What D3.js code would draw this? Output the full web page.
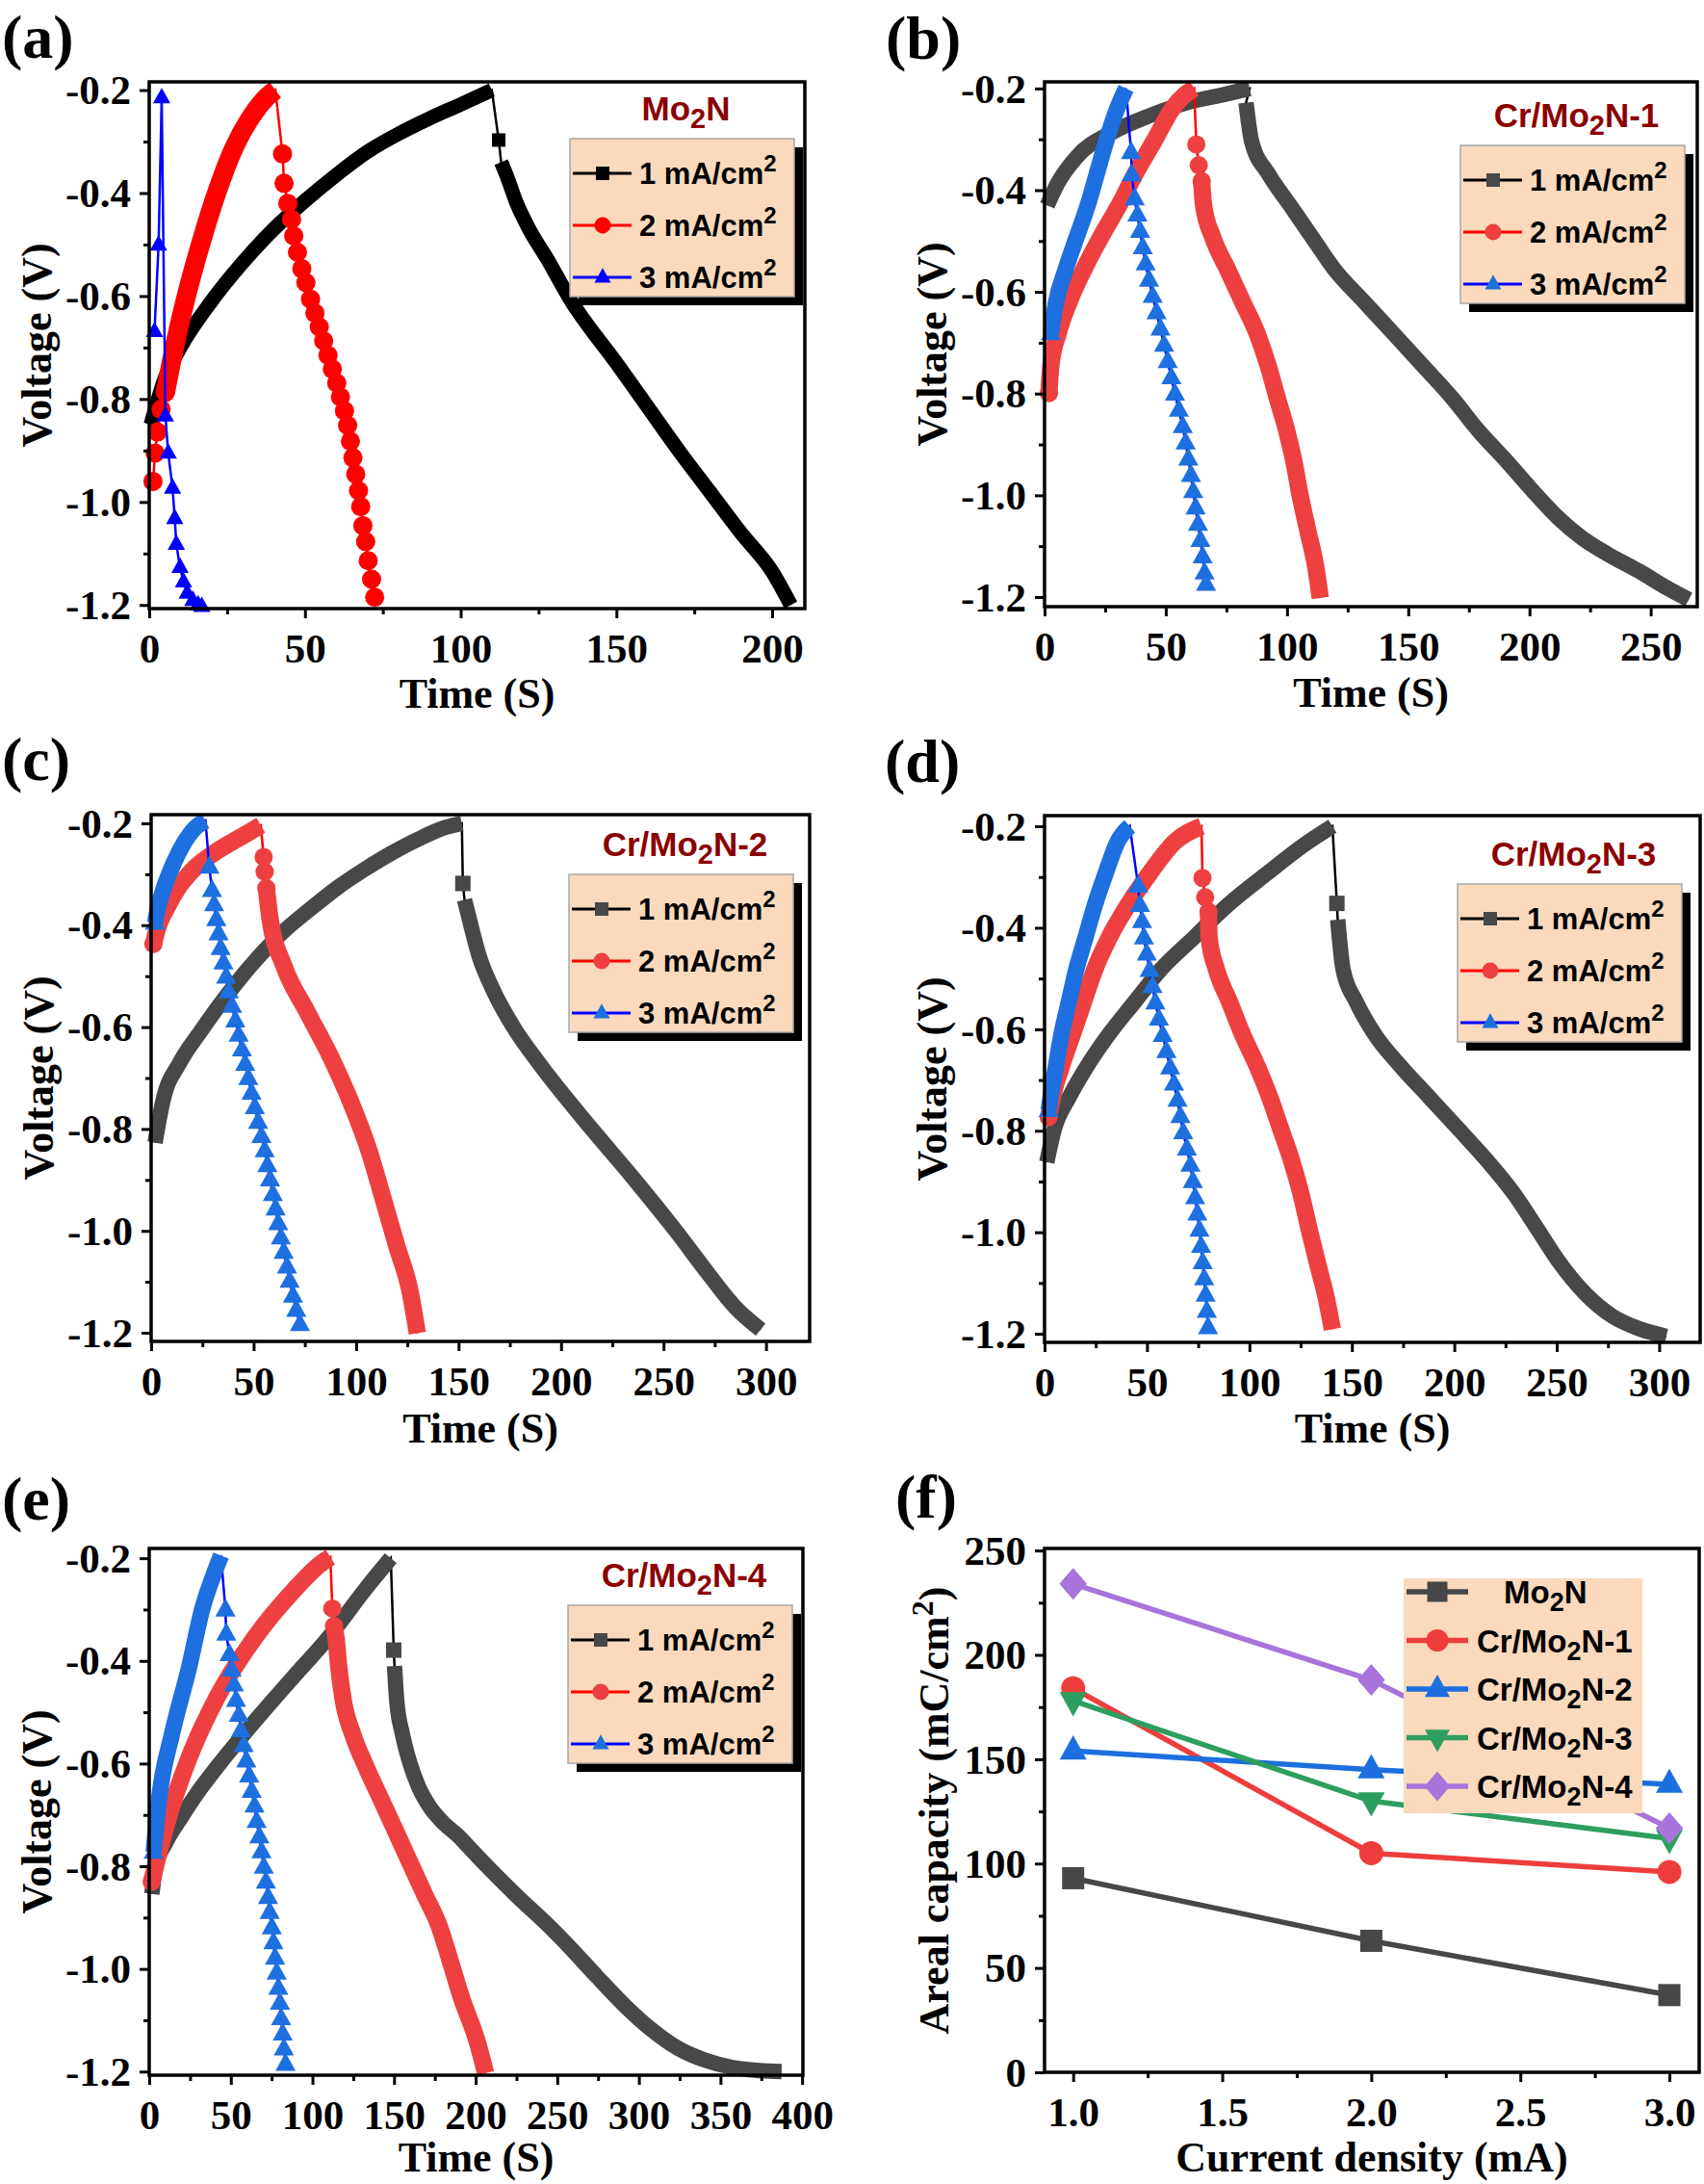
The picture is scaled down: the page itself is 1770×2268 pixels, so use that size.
<!DOCTYPE html>
<html lang="en">
<head>
<meta charset="UTF-8">
<title>GCD curves and areal capacity</title>
<style>
  body { margin: 0; background: #fff; }
  text { font-family: "Liberation Serif", "Times New Roman", serif; font-weight: bold; }
  .sans { font-family: "Liberation Sans", Arial, sans-serif; font-weight: bold; }
</style>
</head>
<body>
<script src="https://cdn.jsdelivr.net/npm/d3@7"></script>
<script>
// ---------- data: [time (s), voltage (V)] ----------
// (a) Mo2N
var a1Charge = [[0.5,-0.85],[5,-0.76],[10,-0.70],[20,-0.61],[30,-0.535],[40,-0.47],[50,-0.415],[60,-0.365],[70,-0.32],[80,-0.285],[90,-0.255],[100,-0.228],[110,-0.2]];
var a1Drop = [[112.2,-0.297]];
var a1Discharge = [[113,-0.34],[115,-0.37],[118,-0.42],[122,-0.47],[128,-0.53],[135,-0.605],[150,-0.73],[160,-0.815],[170,-0.9],[180,-0.98],[190,-1.06],[200,-1.135],[206,-1.2]];
var a2Start = [[1.2,-0.96],[1.9,-0.905],[2.6,-0.864],[3.8,-0.82],[5.2,-0.787]];
var a2Charge = [[5.2,-0.787],[7.9,-0.705],[11.3,-0.615],[16.6,-0.497],[21.8,-0.397],[27,-0.315],[32.3,-0.256],[37.5,-0.215],[40.5,-0.2]];
var a2Drop = [[42.8,-0.324],[43.3,-0.381],[44.5,-0.42],[45.7,-0.451],[46.4,-0.483],[47.6,-0.515],[49.0,-0.547],[50.3,-0.574],[51.8,-0.606],[53.2,-0.633],[54.6,-0.66],[56.0,-0.687],[57.4,-0.715],[58.8,-0.742],[60.2,-0.769],[61.4,-0.796],[62.7,-0.823],[63.7,-0.851],[64.6,-0.882],[65.4,-0.914],[66.3,-0.946],[67.2,-0.978],[67.9,-1.009],[68.6,-1.046],[69.5,-1.077],[70.3,-1.114],[71.4,-1.15],[72.4,-1.185]];
var a3Marks = [[1.7,-0.669],[3.0,-0.501],[4.0,-0.215],[5.2,-0.833],[6.1,-0.905],[7.5,-0.973],[8.2,-1.032],[8.7,-1.082],[9.9,-1.127],[11,-1.155],[12.2,-1.177],[14,-1.191],[15.7,-1.2],[16.9,-1.203]];

// (b) Cr/Mo2N-1
var b1Charge = [[1.1,-0.43],[5,-0.39],[13.2,-0.335],[28.4,-0.285],[43.6,-0.253],[58.8,-0.228],[74,-0.212],[84.6,-0.2]];
var b1Discharge = [[83.1,-0.228],[85.4,-0.304],[92.2,-0.367],[101.3,-0.43],[110.4,-0.493],[119.6,-0.556],[131.7,-0.619],[143.9,-0.682],[156,-0.745],[168.2,-0.809],[178.8,-0.872],[191,-0.935],[203,-1.0],[212,-1.045],[222,-1.085],[232,-1.115],[245.5,-1.15],[256.7,-1.182],[265.7,-1.205]];
var b2Start = [[1.8,-0.799]];
var b2Charge = [[1.8,-0.799],[2.6,-0.745],[5.6,-0.682],[10.2,-0.619],[16.2,-0.556],[23.1,-0.493],[30.7,-0.43],[37.5,-0.367],[45.1,-0.304],[52.7,-0.24],[58,-0.212],[61.7,-0.2]];
var b2Drop = [[62.6,-0.31],[63.6,-0.351],[64.8,-0.382]];
var b2Discharge = [[64.8,-0.382],[65.6,-0.43],[69.4,-0.493],[75.5,-0.556],[81.6,-0.619],[87.7,-0.682],[92.2,-0.745],[96,-0.809],[99.8,-0.872],[102.9,-0.935],[105.4,-1.0],[108.7,-1.072],[112,-1.145],[113.7,-1.202]];
var b3Start = [[2.6,-0.682]];
var b3Charge = [[2.6,-0.682],[4.8,-0.619],[8.7,-0.556],[13.2,-0.493],[17.8,-0.43],[21.6,-0.367],[25.4,-0.304],[29.9,-0.24],[33.6,-0.2]];
var b3Drop = [[35.7,-0.326],[36,-0.37],[37.2,-0.417],[38.3,-0.449],[39.4,-0.481],[40.5,-0.513],[41.7,-0.545],[43.1,-0.577],[44.6,-0.609],[46.2,-0.641],[47.8,-0.673],[49.3,-0.705],[50.8,-0.737],[52.3,-0.769],[53.8,-0.801],[55.4,-0.833],[57.0,-0.865],[58.2,-0.897],[59.3,-0.929],[60.4,-0.961],[61.3,-0.993],[62.3,-1.025],[63.3,-1.057],[64.3,-1.089],[65.2,-1.121],[66.0,-1.153],[66.6,-1.175]];

// (c) Cr/Mo2N-2
var c1Charge = [[1.9,-0.827],[5.8,-0.744],[13.8,-0.671],[24.4,-0.607],[37.6,-0.534],[50.9,-0.469],[64.1,-0.414],[77.4,-0.369],[90.6,-0.327],[103.9,-0.291],[117,-0.259],[130.4,-0.231],[143.7,-0.208],[151.6,-0.2]];
var c1Drop = [[152.1,-0.318]];
var c1Discharge = [[152.9,-0.35],[156,-0.4],[160,-0.46],[166,-0.52],[176.8,-0.6],[190,-0.675],[215,-0.8],[236,-0.9],[256,-1.0],[272,-1.085],[285,-1.15],[297.4,-1.194]];
var c2Start = [[1.1,-0.437]];
var c2Charge = [[1.1,-0.437],[3.2,-0.405],[7.2,-0.369],[13.8,-0.323],[21.7,-0.286],[32.3,-0.254],[42.9,-0.229],[53.5,-0.204]];
var c2Drop = [[54.9,-0.266],[55.4,-0.295],[56.2,-0.327]];
var c2Discharge = [[56.2,-0.327],[58,-0.387],[64.7,-0.479],[76.1,-0.57],[88,-0.662],[98.1,-0.754],[106.5,-0.845],[113.2,-0.937],[119.8,-1.029],[126.4,-1.12],[129.9,-1.201]];
var c3Start = [[1.9,-0.396]];
var c3Charge = [[1.9,-0.396],[3.2,-0.369],[5.8,-0.332],[11.1,-0.277],[16.4,-0.236],[21.7,-0.208],[26.5,-0.195]];
var c3Drop = [[28.4,-0.286],[29.7,-0.332],[30.7,-0.36],[31.8,-0.389],[32.9,-0.417],[33.9,-0.446],[35.3,-0.474],[36.6,-0.502],[37.9,-0.531],[39.5,-0.559],[41.1,-0.588],[42.7,-0.616],[44.3,-0.645],[45.9,-0.673],[47.4,-0.701],[49.0,-0.73],[50.6,-0.758],[52.2,-0.787],[53.8,-0.815],[55.4,-0.843],[56.7,-0.872],[58.0,-0.9],[59.4,-0.929],[60.7,-0.957],[62.0,-0.986],[63.3,-1.014],[64.7,-1.042],[66.3,-1.071],[67.6,-1.099],[69.2,-1.128],[70.8,-1.156],[72.6,-1.184]];

// (d) Cr/Mo2N-3
var d1Charge = [[1.1,-0.862],[4.7,-0.798],[11.9,-0.735],[20.9,-0.672],[31.6,-0.609],[44.2,-0.545],[56.8,-0.482],[73,-0.419],[89.2,-0.356],[108.9,-0.292],[126.9,-0.236],[140.5,-0.2]];
var d1Drop = [[142.7,-0.352]];
var d1Discharge = [[143.1,-0.384],[145.7,-0.482],[152,-0.545],[161,-0.609],[173.6,-0.672],[188,-0.735],[202.4,-0.798],[216.7,-0.862],[229.3,-0.925],[240,-0.99],[250.5,-1.055],[263.7,-1.12],[277,-1.165],[290.2,-1.19],[303.5,-1.205]];
var d2Start = [[2,-0.773]];
var d2Charge = [[2,-0.773],[3.8,-0.735],[8.3,-0.672],[13.7,-0.609],[19.1,-0.545],[24.5,-0.482],[31.6,-0.419],[40.6,-0.356],[51.4,-0.292],[64,-0.229],[76.6,-0.2]];
var d2Drop = [[77.1,-0.302],[78.4,-0.34],[80,-0.368]];
var d2Discharge = [[80,-0.368],[80.3,-0.419],[83.9,-0.482],[90.2,-0.545],[96.5,-0.609],[103.7,-0.672],[110,-0.735],[115.4,-0.798],[120.8,-0.862],[125.2,-0.925],[129.5,-1.0],[133.8,-1.07],[137.8,-1.135],[140.5,-1.191]];
var d3Start = [[2,-0.76]];
var d3Charge = [[2,-0.76],[2.9,-0.735],[5.6,-0.672],[8.3,-0.609],[11.9,-0.545],[15.5,-0.482],[20,-0.419],[24.5,-0.356],[29.9,-0.292],[35.8,-0.229],[41.6,-0.2]];
var d3Drop = [[45.7,-0.318],[46.6,-0.356],[47.6,-0.388],[48.5,-0.42],[49.9,-0.452],[51.3,-0.484],[52.7,-0.516],[54.1,-0.548],[55.8,-0.58],[57.7,-0.612],[59.5,-0.644],[61.3,-0.676],[63.2,-0.708],[64.9,-0.74],[66.3,-0.772],[67.7,-0.804],[69.5,-0.836],[71.2,-0.868],[72.4,-0.9],[73.5,-0.932],[74.6,-0.964],[75.6,-0.996],[76.4,-1.028],[77.2,-1.06],[77.9,-1.092],[78.6,-1.124],[79.2,-1.156],[79.8,-1.188]];

// (e) Cr/Mo2N-4
var e1Charge = [[1.6,-0.854],[4,-0.8],[10,-0.755],[19.6,-0.705],[30,-0.655],[42.2,-0.604],[64.8,-0.517],[87.3,-0.435],[109.9,-0.354],[132.5,-0.26],[148,-0.2]];
var e1Drop = [[149.8,-0.379]];
var e1Discharge = [[150.3,-0.41],[151.7,-0.479],[155.1,-0.542],[159.6,-0.598],[165,-0.645],[172,-0.685],[180,-0.715],[189,-0.74],[198,-0.77],[207,-0.8],[225,-0.857],[245.4,-0.918],[257.7,-0.958],[274.3,-1.015],[290.9,-1.07],[307.6,-1.118],[324.2,-1.155],[340.8,-1.178],[357.4,-1.192],[374,-1.198],[387.4,-1.2]];
var e2Start = [[1.5,-0.83]];
var e2Charge = [[1.5,-0.83],[10.6,-0.717],[24,-0.592],[42.2,-0.467],[64.8,-0.354],[87.3,-0.267],[105.4,-0.21],[111,-0.198]];
var e2Drop = [[112.2,-0.298],[113.2,-0.332]];
var e2Discharge = [[113.2,-0.332],[114.4,-0.354],[116.3,-0.417],[119,-0.479],[124.6,-0.542],[132.5,-0.604],[141.6,-0.667],[150.6,-0.729],[159.6,-0.792],[168.7,-0.855],[177.7,-0.917],[184,-0.98],[191.2,-1.055],[201.2,-1.144],[206.1,-1.203]];
var e3Start = [[2.7,-0.773]];
var e3Charge = [[2.7,-0.773],[6.1,-0.667],[14,-0.542],[24.1,-0.417],[33.1,-0.292],[38,-0.245],[44,-0.195]];
var e3Drop = [[46.7,-0.301],[47.2,-0.348],[49.2,-0.388],[50.5,-0.418],[51.9,-0.447],[53.2,-0.477],[54.9,-0.506],[56.2,-0.536],[57.9,-0.565],[59.5,-0.595],[61.2,-0.624],[62.8,-0.654],[64.5,-0.683],[65.8,-0.713],[67.5,-0.743],[68.8,-0.772],[70.2,-0.802],[71.5,-0.831],[72.8,-0.861],[73.8,-0.89],[75.1,-0.92],[76.1,-0.949],[77.1,-0.979],[78.1,-1.008],[79.1,-1.038],[80.1,-1.067],[80.8,-1.097],[81.8,-1.127],[82.5,-1.156],[83.5,-1.186]];

// (f) areal capacity (mC/cm2) vs current density
var fDensity = [1.0, 2.0, 3.0];
var fMo2N = [93, 63, 37];
var fCr1 = [184, 105, 96];
var fCr2 = [154, 145, 138];
var fCr3 = [178, 130, 112];
var fCr4 = [234, 188, 117];
var fNames = ["Mo2N", "Cr/Mo2N-1", "Cr/Mo2N-2", "Cr/Mo2N-3", "Cr/Mo2N-4"];

// tick labels
var voltTicks = [-0.2, -0.4, -0.6, -0.8, -1.0, -1.2];
var voltMinor = [-0.3, -0.5, -0.7, -0.9, -1.1];
var currents = ["1", "2", "3"];
var capTicks = [0, 50, 100, 150, 200, 250];
var densTicks = [1.0, 1.5, 2.0, 2.5, 3.0];

// ---------- drawing ----------
var svg = d3.select("body").append("svg").attr("width", 1770).attr("height", 2268);

function shape(kind, s) {
    var h = s / 2;
    if (kind == "square") return "M" + (-h) + "," + (-h) + "h" + s + "v" + s + "h" + (-s) + "Z";
    if (kind == "circle") return "M" + h + ",0A" + h + "," + h + " 0 1,1 " + (-h) + ",0A" + h + "," + h + " 0 1,1 " + h + ",0Z";
    if (kind == "up") return "M0," + (-s * 0.58) + "L" + h + "," + (s * 0.32) + "L" + (-h) + "," + (s * 0.32) + "Z";
    if (kind == "down") return "M0," + (s * 0.58) + "L" + h + "," + (-s * 0.32) + "L" + (-h) + "," + (-s * 0.32) + "Z";
    if (kind == "diamond") return "M0," + (-h * 1.1) + "L" + (h * 0.95) + ",0L0," + (h * 1.1) + "L" + (-h * 0.95) + ",0Z";
}

function range(a, b, step) {
    var out = [];
    for (var v = a; v <= b + 1e-9; v += step) out.push(+v.toFixed(4));
    return out;
}

function frameAxes(g, p, x, y, xt, xm, yt, ym, xf, yf) {
    var ax = g.append("g").attr("transform", "translate(0," + p.B + ")")
        .call(d3.axisBottom(x).tickValues(xt).tickSize(10).tickSizeOuter(0).tickFormat(xf));
    var axm = g.append("g").attr("transform", "translate(0," + p.B + ")")
        .call(d3.axisBottom(x).tickValues(xm).tickSize(6).tickSizeOuter(0).tickFormat(""));
    var ay = g.append("g").attr("transform", "translate(" + p.L + ",0)")
        .call(d3.axisLeft(y).tickValues(yt).tickSize(10).tickSizeOuter(0).tickFormat(yf));
    var aym = g.append("g").attr("transform", "translate(" + p.L + ",0)")
        .call(d3.axisLeft(y).tickValues(ym).tickSize(6).tickSizeOuter(0).tickFormat(""));
    [ax, axm, ay, aym].forEach(function (a) {
        a.select(".domain").remove();
        a.selectAll("line").attr("stroke", "#000").attr("stroke-width", 3);
        a.selectAll("text").attr("fill", "#000").attr("font-size", 43)
            .attr("font-family", "Liberation Serif, Times New Roman, serif").attr("font-weight", "bold");
    });
    ax.selectAll("text").attr("y", 56).attr("dy", 0);
    ay.selectAll("text").attr("x", -19).attr("dy", "0.33em");
    g.append("rect").attr("x", p.L).attr("y", p.T).attr("width", p.R - p.L).attr("height", p.B - p.T)
        .attr("fill", "none").attr("stroke", "#000").attr("stroke-width", 3.5);
}

function subText(sel, parts, big, small, shift) {
    // parts: [text, "sub"|"sup"|null]
    parts.forEach(function (pt) {
        var t = sel.append("tspan").text(pt[0]);
        if (pt[1] == "sub") t.attr("font-size", small).attr("baseline-shift", -shift);
        else if (pt[1] == "sup") t.attr("font-size", small).attr("baseline-shift", shift);
        else t.attr("font-size", big);
    });
}

var lineCols = ["#000000", "#ff0000", "#0000ff"];
var markA = ["#000000", "#ff0000", "#0000ff"];
var markB = ["#484848", "#ee4040", "#1e6fe0"];
var shapes = ["square", "circle", "up"];
var markSize = { square: 16, circle: 19, up: 21 };
var bandSize = { square: 16, circle: 18, up: 17 };

var panels = [
    { tag: "(a)", lx: 2, ly: 60, L: 155, R: 836, T: 85, B: 632, xd: [0, 210.5], yd: [-1.207, -0.184], xmax: 200, xtY: 103,
      name: [["Mo", null], ["2", "sub"], ["N", null]], leg: [592, 144], marks: markA,
      mSize: { square: 14, circle: 20, up: 18 }, bSize: { square: 15, circle: 20, up: 15 },
      series: [[[a1Charge, 1], [a1Drop, 0], [a1Discharge, 1]], [[a2Start, 0], [a2Charge, 1], [a2Drop, 0]], [[a3Marks, 0]]] },
    { tag: "(b)", lx: 920, ly: 61, L: 1085, R: 1763, T: 85, B: 630, xd: [0, 269.2], yd: [-1.219, -0.187], xmax: 250, xtY: 104,
      name: [["Cr/Mo", null], ["2", "sub"], ["N-1", null]], leg: [1517, 151], marks: markB,
      series: [[[b1Charge, 1], [b1Discharge, 1]], [[b2Start, 0], [b2Charge, 1], [b2Drop, 0], [b2Discharge, 1]], [[b3Start, 0], [b3Charge, 1], [b3Drop, 0]]] },
    { tag: "(c)", lx: 2, ly: 810, L: 157, R: 841, T: 846, B: 1393, xd: [0, 321.3], yd: [-1.217, -0.183], xmax: 300, xtY: 105,
      name: [["Cr/Mo", null], ["2", "sub"], ["N-2", null]], leg: [591, 908], marks: markB,
      series: [[[c1Charge, 1], [c1Drop, 0], [c1Discharge, 1]], [[c2Start, 0], [c2Charge, 1], [c2Drop, 0], [c2Discharge, 1]], [[c3Start, 0], [c3Charge, 1], [c3Drop, 0]]] },
    { tag: "(d)", lx: 919, ly: 812, L: 1085, R: 1766, T: 847, B: 1394, xd: [0, 320], yd: [-1.217, -0.179], xmax: 300, xtY: 104,
      name: [["Cr/Mo", null], ["2", "sub"], ["N-3", null]], leg: [1514, 918], marks: markB,
      series: [[[d1Charge, 1], [d1Drop, 0], [d1Discharge, 1]], [[d2Start, 0], [d2Charge, 1], [d2Drop, 0], [d2Discharge, 1]], [[d3Start, 0], [d3Charge, 1], [d3Drop, 0]]] },
    { tag: "(e)", lx: 2, ly: 1578, L: 155, R: 834, T: 1608, B: 2155, xd: [0, 400.5], yd: [-1.207, -0.181], xmax: 400, xtY: 100,
      name: [["Cr/Mo", null], ["2", "sub"], ["N-4", null]], leg: [590, 1667], marks: markB,
      series: [[[e1Charge, 1], [e1Drop, 0], [e1Discharge, 1]], [[e2Start, 0], [e2Charge, 1], [e2Drop, 0], [e2Discharge, 1]], [[e3Start, 0], [e3Charge, 1], [e3Drop, 0]]] }
];

panels.forEach(function (p) {
    var g = svg.append("g");
    var x = d3.scaleLinear().domain(p.xd).range([p.L, p.R]);
    var y = d3.scaleLinear().domain(p.yd).range([p.B, p.T]);
    var msz = p.mSize || markSize;
    var bsz = p.bSize || bandSize;

    var thin = d3.line().x(function (d) { return x(d[0]); }).y(function (d) { return y(d[1]); });
    var band = d3.line().x(function (d) { return x(d[0]); }).y(function (d) { return y(d[1]); }).curve(d3.curveMonotoneX);

    p.series.forEach(function (segs, i) {
        var all = [];
        segs.forEach(function (s) { all = all.concat(s[0]); });
        g.append("path").attr("d", thin(all)).attr("fill", "none")
            .attr("stroke", lineCols[i]).attr("stroke-width", 2.5);
        segs.forEach(function (s) {
            if (s[1]) {
                g.append("path").attr("d", band(s[0])).attr("fill", "none")
                    .attr("stroke", p.marks[i]).attr("stroke-width", bsz[shapes[i]])
                    .attr("stroke-linejoin", "round");
            } else {
                g.selectAll(null).data(s[0]).enter().append("path")
                    .attr("d", shape(shapes[i], msz[shapes[i]]))
                    .attr("transform", function (d) { return "translate(" + x(d[0]) + "," + y(d[1]) + ")"; })
                    .attr("fill", p.marks[i]);
            }
        });
    });

    frameAxes(g, p, x, y, range(0, p.xmax, 50), range(25, p.xmax, 50), voltTicks, voltMinor,
        function (d) { return d; }, function (d) { return d.toFixed(1); });

    g.append("text").attr("x", (p.L + p.R) / 2).attr("y", p.B + p.xtY).attr("text-anchor", "middle")
        .attr("font-size", 44).text("Time (S)");
    g.append("text").attr("transform", "translate(" + (p.L - 102) + "," + ((p.T + p.B) / 2) + ") rotate(-90)")
        .attr("text-anchor", "middle").attr("font-size", 44).text("Voltage (V)");
    g.append("text").attr("x", p.lx).attr("y", p.ly).attr("font-size", 64).text(p.tag);

    // legend
    var lw = 233, lh = 164;
    var lg = g.append("g").attr("transform", "translate(" + p.leg[0] + "," + p.leg[1] + ")");
    lg.append("rect").attr("x", 9).attr("y", 9).attr("width", lw).attr("height", lh).attr("fill", "#000");
    lg.append("rect").attr("width", lw).attr("height", lh).attr("fill", "#fad9bc")
        .attr("stroke", "#a8a8a8").attr("stroke-width", 1.5);
    var tt = lg.append("text").attr("class", "sans").attr("x", lw / 2 + 4).attr("y", -19)
        .attr("text-anchor", "middle").attr("fill", "#8b0000");
    subText(tt, p.name, 35, 29, 8);
    currents.forEach(function (c, i) {
        var cy = 36 + i * 54;
        lg.append("line").attr("x1", 3).attr("x2", 64).attr("y1", cy).attr("y2", cy)
            .attr("stroke", lineCols[i]).attr("stroke-width", 3);
        lg.append("path").attr("d", shape(shapes[i], shapes[i] == "square" ? 14 : 17))
            .attr("transform", "translate(34," + cy + ")").attr("fill", p.marks[i]);
        var t = lg.append("text").attr("class", "sans").attr("x", 72).attr("y", cy + 11).attr("fill", "#000");
        subText(t, [[c + " mA/cm", null], ["2", "sup"]], 31, 24, 13);
    });
});

// ---------- (f) ----------
(function () {
    var p = { L: 1085, R: 1765, T: 1608, B: 2152 };
    var g = svg.append("g");
    var x = d3.scaleLinear().domain([0.904, 3.1]).range([p.L, p.R]);
    var y = d3.scaleLinear().domain([0, 251]).range([p.B, p.T]);
    var cols = ["#474747", "#ee3d3d", "#1c6fde", "#2e9e5e", "#a874dc"];
    var kinds = ["square", "circle", "up", "down", "diamond"];
    var sz = { square: 23, circle: 25, up: 28, down: 28, diamond: 30 };
    var vals = [fMo2N, fCr1, fCr2, fCr3, fCr4];
    var line = d3.line().x(function (d) { return x(d[0]); }).y(function (d) { return y(d[1]); });

    vals.forEach(function (v, i) {
        var pts = fDensity.map(function (c, j) { return [c, v[j]]; });
        g.append("path").attr("d", line(pts)).attr("fill", "none").attr("stroke", cols[i]).attr("stroke-width", 5.5);
        g.selectAll(null).data(pts).enter().append("path").attr("d", shape(kinds[i], sz[kinds[i]]))
            .attr("transform", function (d) { return "translate(" + x(d[0]) + "," + y(d[1]) + ")"; })
            .attr("fill", cols[i]);
    });

    frameAxes(g, p, x, y, densTicks, [1.25, 1.75, 2.25, 2.75], capTicks, [25, 75, 125, 175, 225],
        function (d) { return d.toFixed(1); }, function (d) { return d; });

    g.append("text").attr("x", (p.L + p.R) / 2).attr("y", p.B + 103).attr("text-anchor", "middle")
        .attr("font-size", 44).text("Current density (mA)");
    var yt = g.append("text").attr("transform", "translate(" + (p.L - 100) + "," + ((p.T + p.B) / 2) + ") rotate(-90)")
        .attr("text-anchor", "middle");
    subText(yt, [["Areal capacity (mC/cm", null], ["2", "sup"], [")", null]], 44, 32, 16);
    g.append("text").attr("x", 930).attr("y", 1576).attr("font-size", 64).text("(f)");

    var lg = g.append("g").attr("transform", "translate(1458,1639)");
    lg.append("rect").attr("width", 248).attr("height", 244).attr("fill", "#fad9bc");
    fNames.forEach(function (n, i) {
        var cy = 14 + i * 50.5;
        lg.append("line").attr("x1", 3).attr("x2", 67).attr("y1", cy).attr("y2", cy)
            .attr("stroke", cols[i]).attr("stroke-width", 5.5);
        lg.append("path").attr("d", shape(kinds[i], sz[kinds[i]] - 2)).attr("transform", "translate(35," + cy + ")")
            .attr("fill", cols[i]);
        var k = n.indexOf("2");
        var t = lg.append("text").attr("class", "sans").attr("x", i == 0 ? 104 : 76).attr("y", cy + 12).attr("fill", "#000");
        subText(t, [[n.slice(0, k), null], ["2", "sub"], [n.slice(k + 1), null]], 33, 27, 8);
    });
})();
</script>
</body>
</html>
